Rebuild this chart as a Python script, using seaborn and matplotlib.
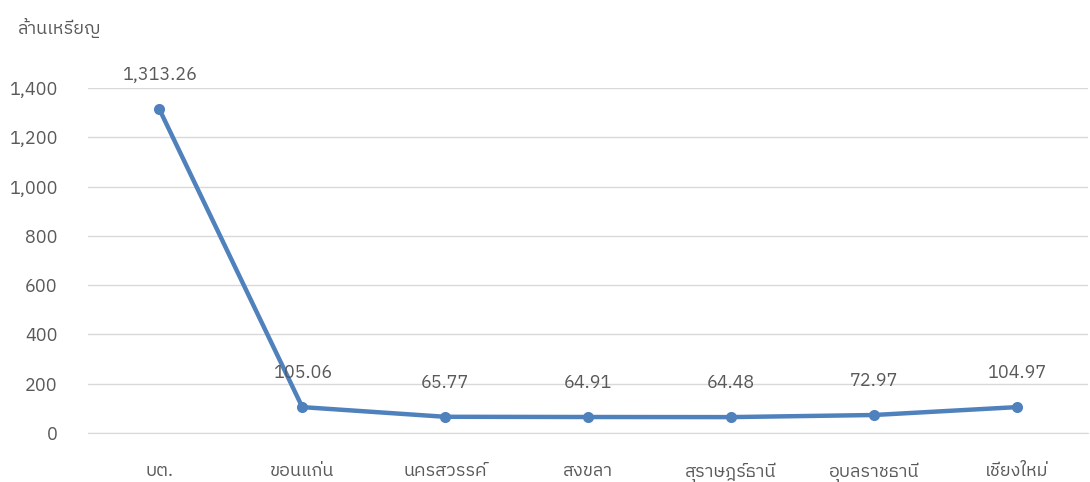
import matplotlib
matplotlib.use("Agg")
import matplotlib.pyplot as plt
import seaborn as sns
import pandas as pd

# data
branches = ["บต.", "ขอนแก่น", "นครสวรรค์", "สงขลา", "สุราษฎร์ธานี", "อุบลราชธานี", "เชียงใหม่"]
values = [1313.26, 105.06, 65.77, 64.91, 64.48, 72.97, 104.97]
yticks = [0, 200, 400, 600, 800, 1000, 1200, 1400]

sns.set_style("white")
plt.rcParams['font.family'] = ['IBM Plex Sans Thai', 'DejaVu Sans']

df = pd.DataFrame({"branch": branches, "value": values})

fig = plt.figure(figsize=(10.9, 4.82), dpi=100)
ax = fig.add_axes([88 / 1090, 49 / 482, 1000 / 1090, 345 / 482])

sns.lineplot(data=df, x="branch", y="value", ax=ax, color="#4F81BD",
             linewidth=3.2, marker="o", markersize=8, markeredgewidth=0, sort=False)

ax.set_xlim(-0.5, len(branches) - 0.5)
ax.set_ylim(0, 1400)
ax.set_yticks(yticks)
ax.set_yticklabels([f"{v:,}" for v in yticks])
ax.grid(axis="y", color="#D9D9D9", linewidth=1)
ax.set_axisbelow(True)
for s in ["top", "right", "left"]:
    ax.spines[s].set_visible(False)
ax.spines["bottom"].set_color("#D9D9D9")
ax.tick_params(axis="both", length=0, labelsize=13, colors="#595959")
ax.tick_params(axis="x", pad=21)
ax.tick_params(axis="y", pad=22)
ax.set_xlabel("")
ax.set_ylabel("")

for i, v in enumerate(values):
    ax.annotate(f"{v:,.2f}", (i, v), xytext=(0, 18), textcoords="offset points",
                ha="center", va="bottom", fontsize=13, color="#595959")

fig.text(18 / 1090, 1 - 28 / 482, "ล้านเหรียญ", fontsize=13, color="#595959",
         va="center", ha="left")

fig.savefig("out.png", dpi=100)
